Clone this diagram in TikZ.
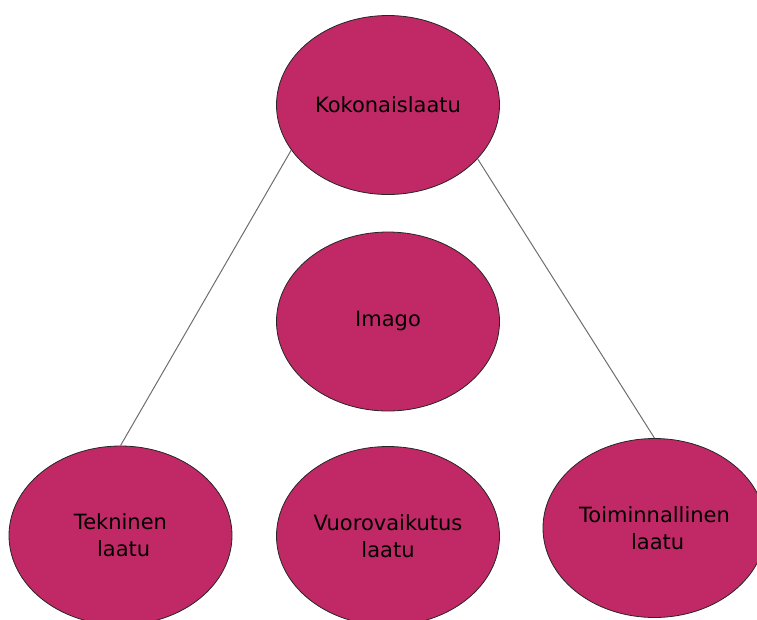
\documentclass[tikz,border=0pt]{standalone}
\usepackage{fontspec}
\setmainfont{DejaVu Sans}
\usetikzlibrary{shapes.geometric}
\definecolor{bubble}{RGB}{192,41,102}
\definecolor{linkgray}{RGB}{110,110,110}
\tikzset{
  bubblenode/.style={ellipse, draw=black!85, line width=0.8pt, fill=bubble,
    minimum width=223pt, minimum height=179pt, inner sep=0pt, align=center,
    font=\fontsize{21}{27}\selectfont, text=black},
  link/.style={draw=linkgray, line width=1pt}
}
\begin{document}
\begin{tikzpicture}[x=1pt,y=-1pt]
\useasboundingbox (0,0) rectangle (757,619);
\node[bubblenode] (koko) at (388,105) {Kokonaislaatu};
\node[bubblenode] (imago) at (388,321.5) {Imago};
\node[bubblenode] (tek) at (120.5,535.5) {Tekninen\\\hspace*{0.3em}laatu};
\node[bubblenode] (vuoro) at (388,536) {Vuorovaikutus\\laatu};
\node[bubblenode] (toim) at (654.5,528) {Toiminnallinen\\\hspace*{0.3em}laatu};
\draw[link] (koko.205.4) -- (tek.north);
\draw[link] (koko.-31.4) -- (toim.north);
\end{tikzpicture}
\end{document}
